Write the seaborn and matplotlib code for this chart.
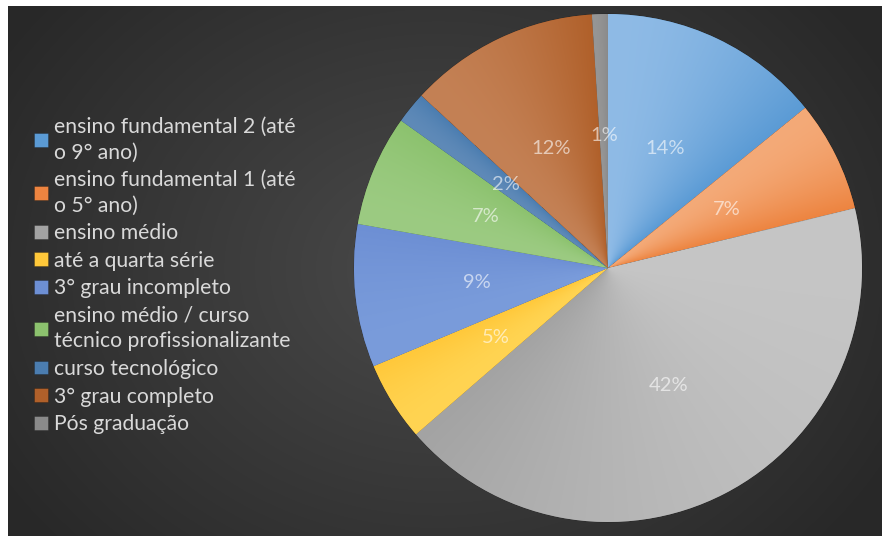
import numpy as np
import matplotlib
matplotlib.use("Agg")
import matplotlib.pyplot as plt
import seaborn as sns
from matplotlib.colors import to_rgb

# Escolaridade dos respondentes (%)
categorias = [
    "ensino fundamental 2 (até\no 9° ano)",
    "ensino fundamental 1 (até\no 5° ano)",
    "ensino médio",
    "até a quarta série",
    "3° grau incompleto",
    "ensino médio / curso\ntécnico profissionalizante",
    "curso tecnológico",
    "3° grau completo",
    "Pós graduação",
]
percentuais = [14, 7, 42, 5, 9, 7, 2, 12, 1]

# cor clara (início da fatia) e cor base (fim da fatia)
cores_claras = ["#8FBBE6", "#F4AA78", "#C6C6C6", "#FFD452", "#7A9CDB",
                "#9CCB82", "#5F8AB8", "#C48155", "#969696"]
cores_base = ["#5B9BD5", "#ED8440", "#A3A3A3", "#FFC83A", "#6D8FD4",
              "#8CC26E", "#4B7DB0", "#B0602A", "#8A8A8A"]

sns.set_theme(style="dark")
plt.rcParams["font.family"] = ["Lato", "DejaVu Sans"]

W, H = 884, 536
fig = plt.figure(figsize=(W / 100, H / 100), dpi=100, facecolor="white")

# fundo escuro com gradiente radial
bg = fig.add_axes([8 / W, 0, (W - 10) / W, (H - 6) / H])
bg.set_axis_off()
yy, xx = np.mgrid[0:530, 0:874]
d = np.sqrt(((xx - 430) / 520.0) ** 2 + ((yy - 262) / 420.0) ** 2)
d = np.clip(d, 0, 1)
c0, c1 = np.array(to_rgb("#4A4A4A")), np.array(to_rgb("#282828"))
img = c0[None, None, :] * (1 - d[..., None]) + c1[None, None, :] * d[..., None]
bg.imshow(img, aspect="auto", extent=[0, 1, 0, 1], interpolation="bilinear")
bg.set_xlim(0, 1)
bg.set_ylim(0, 1)

# pizza
cx, cy, r = 608, 268, 254
ax = fig.add_axes([(cx - r) / W, (H - cy - r) / H, 2 * r / W, 2 * r / H])
wedges, textos, autotextos = ax.pie(
    percentuais,
    colors=cores_base,
    startangle=90,
    counterclock=False,
    radius=1,
    autopct=lambda p: f"{p:.0f}%",
    pctdistance=0.52,
    wedgeprops=dict(edgecolor=(0, 0, 0, 0.25), linewidth=0.6),
    textprops=dict(color="white", alpha=0.6, fontsize=14.5),
)
ax.set_xlim(-1, 1)
ax.set_ylim(-1, 1)
ax.set_aspect("equal")
ax.set_axis_off()

# gradiente angular dentro de cada fatia
n = 500
gy, gx = np.mgrid[1:-1:n * 1j, -1:1:n * 1j]
ang = (np.degrees(np.arctan2(gx, gy)) + 360) % 360  # horário a partir do topo
total = sum(percentuais)
inicio = 0.0
for w, v, cl, cb in zip(wedges, percentuais, cores_claras, cores_base):
    span = 360 * v / total
    frac = np.clip(((ang - inicio) % 360) / span, 0, 1) ** 1.8
    a, b = np.array(to_rgb(cl)), np.array(to_rgb(cb))
    g = a[None, None, :] * (1 - frac[..., None]) + b[None, None, :] * frac[..., None]
    im = ax.imshow(g, extent=[-1, 1, -1, 1], zorder=w.get_zorder() + 0.1,
                   interpolation="bilinear")
    im.set_clip_path(w)
    inicio += span
for t in autotextos:
    t.set_zorder(5)

leg = fig.legend(
    wedges, categorias,
    loc="upper left",
    bbox_to_anchor=(15 / W, 1 - 98 / H),
    frameon=False,
    fontsize=15.2,
    handlelength=0.64,
    handleheight=0.64,
    handletextpad=0.3,
    labelspacing=0.36,
    labelcolor="#D9D9D9",
)
for t in leg.get_texts():
    t.set_linespacing(1.34)

fig.savefig("out.png", dpi=100, facecolor=fig.get_facecolor())
